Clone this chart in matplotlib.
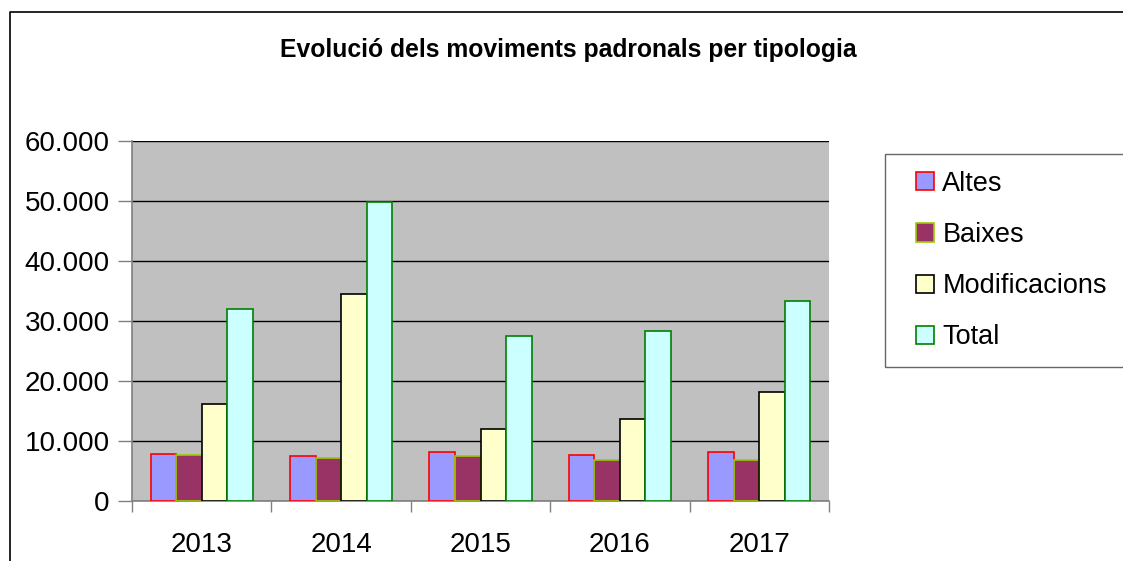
import matplotlib.pyplot as plt
import numpy as np
from matplotlib.lines import Line2D
from matplotlib.patches import Rectangle
from matplotlib.container import BarContainer
from matplotlib.legend_handler import HandlerPatch
from matplotlib.ticker import FuncFormatter

plt.rcParams['font.family'] = ['Liberation Sans', 'DejaVu Sans']

years = ['2013', '2014', '2015', '2016', '2017']
altes = [7830, 7550, 8100, 7700, 8100]
baixes = [7700, 7170, 7500, 6900, 6900]
modificacions = [16100, 34550, 12000, 13700, 18200]
total = [32050, 49800, 27500, 28300, 33400]

series = [
    ('Altes', altes, '#9999FF', '#FF0000'),
    ('Baixes', baixes, '#993366', '#99CC00'),
    ('Modificacions', modificacions, '#FFFFCC', '#000000'),
    ('Total', total, '#CCFFFF', '#008000'),
]

fig = plt.figure(figsize=(11.23, 5.61), dpi=100)
ax = fig.add_axes([132 / 1123, 1 - 501 / 561, 697 / 1123, 360 / 561])
ax.set_facecolor('#C0C0C0')

x = np.arange(len(years))
w = 0.183
for i, (name, vals, fc, ec) in enumerate(series):
    ax.bar(x + (i - 1.5) * w, vals, w, color=fc, edgecolor=ec,
           linewidth=1.2, label=name, zorder=3)

ax.set_xlim(-0.5, 4.5)
ax.set_ylim(0, 60000)
ax.set_yticks(range(0, 60001, 10000))
ax.yaxis.set_major_formatter(
    FuncFormatter(lambda v, p: '{:,.0f}'.format(v).replace(',', '.')))
ax.yaxis.grid(True, color='black', linewidth=1.0, zorder=1)
ax.set_axisbelow(True)

ax.set_xticks(np.arange(-0.5, 5, 1))
ax.set_xticklabels([])
ax.set_xticks(x, minor=True)
ax.set_xticklabels(years, minor=True)
ax.tick_params(axis='x', which='minor', length=0, pad=22.5, labelsize=20)
ax.tick_params(axis='x', which='major', length=8, color='#808080', width=1)
ax.tick_params(axis='y', length=10, pad=6, color='#808080', width=1,
               labelsize=20)

for s in ['top', 'right']:
    ax.spines[s].set_visible(False)
for s in ['left', 'bottom']:
    ax.spines[s].set_color('#808080')
    ax.spines[s].set_linewidth(1.2)

fig.text(568 / 1123, 1 - 50 / 561,
         'Evolució dels moviments padronals per tipologia',
         ha='center', va='center', fontsize=17.8, fontweight='bold')


# small square marker placed at the right end of a wider handle box
def square(legend, orig_handle, xdescent, ydescent, width, height, fontsize):
    s = height
    return Rectangle((width - s - xdescent, -ydescent), s, s)


def from_first(handle, orig):
    handle.update_from(orig[0])


leg = fig.legend(loc='upper left', mode='expand',
                 bbox_to_anchor=(885 / 1123, 1 - 154 / 561, 300 / 1123, 0),
                 fontsize=19.5, frameon=True, fancybox=False,
                 edgecolor='#404040', labelspacing=0.93, borderpad=0.62,
                 handlelength=1.2, handleheight=0.65, handletextpad=0.3,
                 borderaxespad=0,
                 handler_map={BarContainer: HandlerPatch(
                     patch_func=square, update_func=from_first)})
leg.get_frame().set_linewidth(1.0)

# outer chart border (cut by the image edge)
fig.add_artist(Line2D([10 / 1123, 10 / 1123, 1.0],
                      [0.0, 1 - 12 / 561, 1 - 12 / 561],
                      color='black', linewidth=1.2,
                      transform=fig.transFigure))

fig.savefig('out.png', dpi=100)
